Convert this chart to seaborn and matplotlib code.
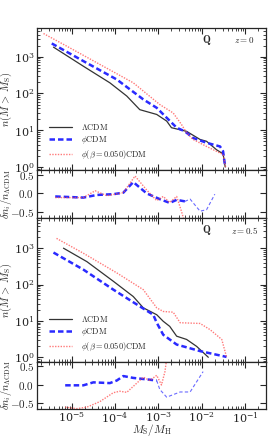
import numpy as np
import pandas as pd
import matplotlib
matplotlib.use("Agg")
import matplotlib.pyplot as plt
import matplotlib.ticker as mticker
import seaborn as sns

sns.set_style("ticks")
plt.rcParams["mathtext.fontset"] = "cm"
plt.rcParams["font.family"] = ["DejaVu Serif"]

# ---------------------------------------------------------------
# data (log10 M_S/M_H, log10 n / residual)
# ---------------------------------------------------------------

# z = 0, cumulative counts
lx_lcdm_z0 = [-5.42, -4.73, -4.12, -3.73, -3.43, -3.04, -2.81, -2.70, -2.35, -2.04, -1.89, -1.66, -1.51, -1.46]
ly_lcdm_z0 = [3.26, 2.74, 2.29, 1.93, 1.56, 1.43, 1.25, 1.07, 0.97, 0.75, 0.70, 0.47, 0.36, 0.0]
lx_phi_z0 = [-5.46, -4.73, -3.96, -3.35, -3.04, -2.81, -2.58, -2.39, -2.20, -1.89, -1.58, -1.51, -1.46]
ly_phi_z0 = [3.36, 2.88, 2.38, 1.84, 1.61, 1.34, 1.07, 0.97, 0.79, 0.66, 0.56, 0.43, 0.0]
lx_beta_z0 = [-5.65, -5.12, -4.35, -3.58, -2.97, -2.66, -2.47, -2.35, -2.20, -1.89, -1.51, -1.45]
ly_beta_z0 = [3.63, 3.29, 2.79, 2.29, 1.70, 1.47, 1.16, 0.93, 0.75, 0.56, 0.34, 0.0]

# z = 0, residuals
rx_phi_z0 = [-5.38, -4.73, -4.42, -4.04, -3.81, -3.58, -3.27, -2.97, -2.74, -2.58, -2.39]
ry_phi_z0 = [-0.08, -0.11, -0.04, -0.02, 0.02, 0.30, 0.0, -0.15, -0.25, -0.17, -0.21]
rx_phi_z0_tail = [-2.39, -2.27, -2.04, -1.89, -1.70]
ry_phi_z0_tail = [-0.21, -0.15, -0.47, -0.43, -0.02]
rx_beta_z0 = [-5.38, -4.73, -4.46, -4.19, -3.81, -3.54, -3.27, -3.04, -2.89, -2.74, -2.58, -2.47, -2.40]
ry_beta_z0 = [-0.11, -0.11, 0.07, -0.06, 0.02, 0.46, 0.09, -0.19, -0.08, -0.24, -0.08, -0.47, -0.75]

# z = 0.5, cumulative counts
lx_lcdm_z05 = [-5.19, -4.65, -4.04, -3.58, -3.35, -3.04, -2.89, -2.74, -2.58, -2.35, -2.12, -1.85]
ly_lcdm_z05 = [3.0, 2.63, 2.09, 1.67, 1.36, 1.17, 0.99, 0.85, 0.58, 0.49, 0.30, 0.0]
lx_phi_z05 = [-5.42, -4.73, -4.04, -3.43, -3.12, -3.04, -2.89, -2.58, -2.04, -1.43]
ly_phi_z05 = [2.88, 2.41, 1.86, 1.40, 1.17, 0.95, 0.62, 0.35, 0.17, 0.01]
lx_beta_z05 = [-5.35, -4.73, -3.96, -3.35, -3.04, -2.89, -2.66, -2.50, -2.04, -1.81, -1.54, -1.43]
ly_beta_z05 = [3.27, 2.86, 2.32, 1.86, 1.36, 1.26, 1.24, 0.95, 0.93, 0.76, 0.49, 0.01]

# z = 0.5, residuals
rx_phi_z05 = [-5.15, -4.73, -4.50, -4.12, -3.96, -3.81, -3.58, -3.27, -3.04]
ry_phi_z05 = [-0.01, -0.01, 0.07, 0.05, 0.12, 0.24, 0.19, 0.15, 0.12]
rx_phi_z05_tail = [-3.04, -2.97, -2.81, -2.50, -2.27, -1.97]
ry_phi_z05_tail = [0.12, -0.12, -0.33, -0.19, -0.19, 0.36]
rx_beta_z05 = [-5.15, -4.88, -4.65, -4.35, -4.04, -3.89, -3.73, -3.35, -3.20, -3.04, -2.93, -2.85, -2.80]
ry_beta_z05 = [-0.60, -0.64, -0.60, -0.45, -0.21, -0.17, -0.20, 0.21, 0.12, 0.26, 0.0, 0.36, 0.80]

labels = [r"$\Lambda\mathrm{CDM}$", r"$\phi\mathrm{CDM}$", r"$\phi(\beta=0.050)\mathrm{CDM}$"]
redshifts = [r"$z=0$", r"$z=0.5$"]

# ---------------------------------------------------------------

XLIM = (10 ** -5.80, 10 ** -0.52)
LCDM = dict(color="#333333", lw=0.9, linestyle="-")
PHI = dict(color="#2a2aff", lw=1.8, linestyle=(0, (2.2, 1.2)))
PHI_THIN = dict(color="#5050ff", lw=0.8, linestyle=(0, (3, 2)), alpha=0.85)
BETA = dict(color="#ff4d4d", lw=1.0, linestyle=(0, (1, 1)), alpha=0.75)


def line(ax, lx, ly, style, label=None, log_y=True):
    df = pd.DataFrame({"x": 10 ** np.array(lx), "y": 10 ** np.array(ly) if log_y else np.array(ly)})
    sns.lineplot(data=df, x="x", y="y", ax=ax, label=label, sort=False,
                 estimator=None, legend=False, **style)


def style_axis(ax):
    ax.set_xscale("log")
    ax.set_xlim(*XLIM)
    ax.tick_params(which="both", direction="in", top=True, right=True, labelsize=8, pad=2)
    ax.tick_params(axis="x", pad=1)
    ax.tick_params(which="major", length=4.5, width=0.8)
    ax.tick_params(which="minor", length=2.2, width=0.6)
    ax.xaxis.set_major_locator(mticker.LogLocator(base=10, numticks=10))
    ax.xaxis.set_minor_locator(mticker.LogLocator(base=10, subs=np.arange(2, 10), numticks=20))
    for s in ax.spines.values():
        s.set_linewidth(0.9)
    ax.set_xlabel("")
    ax.set_ylabel("")


fig = plt.figure(figsize=(2.69, 4.37), dpi=100)
L, W = 37 / 269, 229 / 269
ax_m0 = fig.add_axes([L, 1 - 170 / 437, W, 142 / 437])
ax_r0 = fig.add_axes([L, 1 - 218 / 437, W, 48 / 437])
ax_m1 = fig.add_axes([L, 1 - 362 / 437, W, 144 / 437])
ax_r1 = fig.add_axes([L, 1 - 409 / 437, W, 47 / 437])

panels = [
    (ax_m0, ax_r0, (lx_lcdm_z0, ly_lcdm_z0), (lx_phi_z0, ly_phi_z0), (lx_beta_z0, ly_beta_z0),
     (rx_phi_z0, ry_phi_z0), (rx_phi_z0_tail, ry_phi_z0_tail), (rx_beta_z0, ry_beta_z0),
     (10 ** -0.08, 10 ** 3.78), redshifts[0]),
    (ax_m1, ax_r1, (lx_lcdm_z05, ly_lcdm_z05), (lx_phi_z05, ly_phi_z05), (lx_beta_z05, ly_beta_z05),
     (rx_phi_z05, ry_phi_z05), (rx_phi_z05_tail, ry_phi_z05_tail), (rx_beta_z05, ry_beta_z05),
     (10 ** -0.13, 10 ** 3.83), redshifts[1]),
]

for ax_m, ax_r, lc, ph, be, rph, rph_t, rbe, ylim, ztxt in panels:
    line(ax_m, *lc, LCDM, labels[0])
    line(ax_m, *ph, PHI, labels[1])
    line(ax_m, *be, BETA, labels[2])
    ax_m.set_yscale("log")
    ax_m.set_ylim(*ylim)
    style_axis(ax_m)
    ax_m.yaxis.set_major_locator(mticker.LogLocator(base=10, numticks=10))
    ax_m.yaxis.set_minor_locator(mticker.LogLocator(base=10, subs=np.arange(2, 10), numticks=20))
    ax_m.tick_params(axis="x", labelbottom=False)
    ax_m.set_ylabel(r"$n(M\,>\,M_{\rm S})$", fontsize=7.5, labelpad=1)
    ax_m.text(0.74, 0.915, r"$\mathbf{Q}$", transform=ax_m.transAxes, fontsize=7.5,
              ha="center", va="center")
    ax_m.text(0.905, 0.915, ztxt, transform=ax_m.transAxes, fontsize=6.5,
              ha="center", va="center")
    ax_m.legend(loc="lower left", bbox_to_anchor=(0.02, 0.01), frameon=False, fontsize=6,
                handlelength=2.8, labelspacing=0.3, handletextpad=1.0)

    line(ax_r, *rph, PHI, log_y=False)
    line(ax_r, *rph_t, PHI_THIN, log_y=False)
    line(ax_r, *rbe, BETA, log_y=False)
    ax_r.set_ylim(-0.65, 0.62)
    style_axis(ax_r)
    ax_r.set_yticks([-0.5, 0.0, 0.5])
    ax_r.yaxis.set_major_formatter(mticker.FuncFormatter(lambda v, p: r"$%.1f$" % v))
    ax_r.yaxis.set_minor_locator(mticker.NullLocator())
    ax_r.set_ylabel(r"$\delta n_i/n_{\Lambda\mathrm{CDM}}$", fontsize=7.5, labelpad=1)

ax_r0.tick_params(axis="x", labelbottom=False)
ax_r1.set_xlabel(r"$M_{\rm S}/M_{\rm H}$", fontsize=8, labelpad=-2)

for ax in (ax_m0, ax_r0, ax_m1, ax_r1):
    ax.yaxis.set_label_coords(-0.099, 0.5)

fig.savefig("out.png", dpi=100)
